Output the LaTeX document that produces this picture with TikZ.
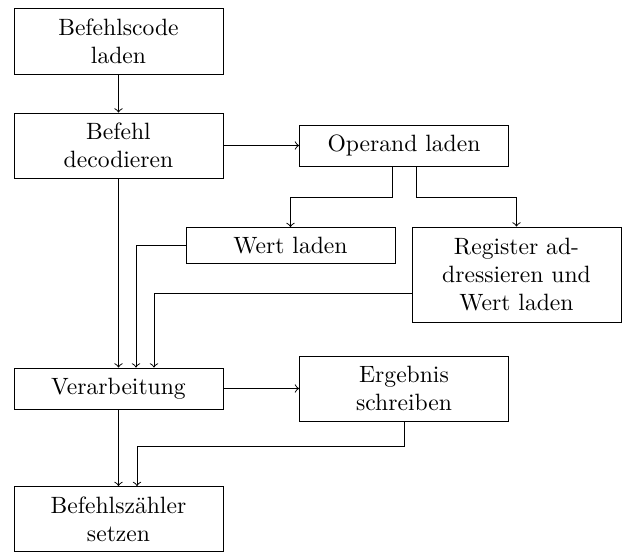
\documentclass[tikz,border=0pt]{standalone}
\usetikzlibrary{calc}
\begin{document}
\begin{tikzpicture}[x=0.4238pt,y=-0.4238pt,
  box/.style={draw,rectangle,align=center,inner sep=0pt,minimum width=209*0.4238pt},
  >=to]
\useasboundingbox (0,0) rectangle (622,552);
\node[box,minimum height=66*0.4238pt] (A) at (118.5,41) {Befehlscode\\laden};
\node[box,minimum height=65*0.4238pt] (B) at (118.5,145.5) {Befehl\\decodieren};
\node[box,minimum height=41*0.4238pt] (C) at (404,145.5) {Operand laden};
\node[box,minimum height=36*0.4238pt] (D) at (290.5,245.5) {Wert laden};
\node[box,minimum height=95*0.4238pt] (E) at (516.5,274.5) {Register ad-\\dressieren und\\Wert laden};
\node[box,minimum height=41*0.4238pt] (F) at (118.5,388.5) {Verarbeitung};
\node[box,minimum height=65*0.4238pt] (G) at (404,388.5) {Ergebnis\\schreiben};
\node[box,minimum height=65*0.4238pt] (H) at (118.5,519) {Befehlsz\"ahler\\setzen};
\draw[->] (A) -- (B);
\draw[->] (B) -- (C);
\draw[->] ($(C.south)+(-12,0)$) -- ++(0,31) -| (D.north);
\draw[->] ($(C.south)+(12,0)$) -- ++(0,31) -| (E.north);
\draw[->] (B) -- (F);
\draw[->] (D.west) -| ($(F.north)+(17.5,0)$);
\draw[->] ($(E.west)+(0,18.5)$) -| ($(F.north)+(35.5,0)$);
\draw[->] (F) -- (G);
\draw[->] (F) -- (H);
\draw[->] (G.south) -- ++(0,25) -| ($(H.north)+(18.5,0)$);
\end{tikzpicture}
\end{document}
